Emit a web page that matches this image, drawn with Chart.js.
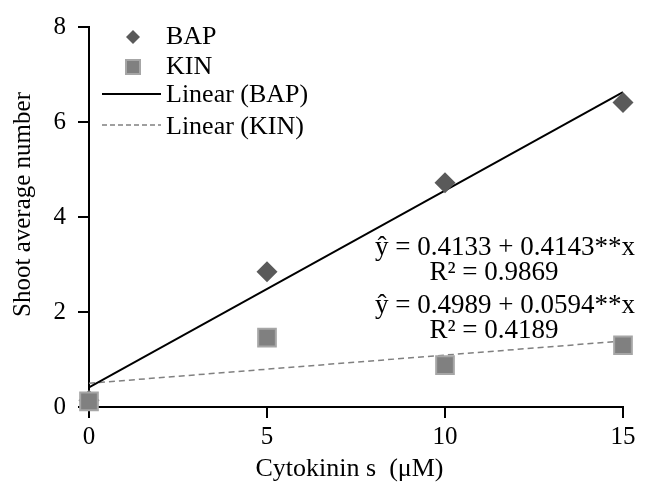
<!DOCTYPE html>
<html lang="en">
<head>
  <meta charset="UTF-8">
  <title>Shoot average number vs cytokinins</title>
  <script src="https://cdn.jsdelivr.net/npm/chart.js"></script>
  <style>
    html, body { margin: 0; padding: 0; background: #fff; }
    .chart-box { width: 646px; height: 487px; }
  </style>
</head>
<body>
  <div class="chart-box">
    <canvas id="shootChart" width="646" height="487"></canvas>
  </div>

  <script>
    // data
    var concentrations = [0, 5, 10, 15];
    var bapValues = [0.14, 2.85, 4.72, 6.41];
    var kinValues = [0.12, 1.46, 0.88, 1.30];
    // fitted trend lines: [intercept, slope]
    var bapFit = [0.4133, 0.4143];
    var kinFit = [0.4989, 0.0594];
    var fitRange = [0, 15];
    var equationLines = [
      ['\u0177 = 0.4133 + 0.4143**x', 'R\u00b2 = 0.9869'],
      ['\u0177 = 0.4989 + 0.0594**x', 'R\u00b2 = 0.4189']
    ];
    var yTicks = [0, 2, 4, 6, 8];
    var xTicks = [0, 5, 10, 15];

    var serif = "'Liberation Serif', 'Times New Roman', serif";

    function toPoints(xs, ys) {
      return xs.map(function(x, i) { return { x: x, y: ys[i] }; });
    }
    function fitLine(fit) {
      return fitRange.map(function(x) { return { x: x, y: fit[0] + fit[1] * x }; });
    }

    // legend + equation text drawn by hand, the way the original sits inside the plot
    var extrasPlugin = {
      id: 'extras',
      afterDatasetsDraw: function(chart) {
        var ctx = chart.ctx;
        ctx.save();
        ctx.font = '26px ' + serif;
        ctx.textBaseline = 'middle';
        ctx.textAlign = 'left';

        // diamond
        ctx.fillStyle = '#5a5a5a';
        ctx.beginPath();
        ctx.moveTo(133, 30); ctx.lineTo(140, 37); ctx.lineTo(133, 44); ctx.lineTo(126, 37);
        ctx.closePath(); ctx.fill();
        // square
        ctx.fillStyle = '#808080';
        ctx.strokeStyle = '#a6a6a6';
        ctx.lineWidth = 2;
        ctx.fillRect(126, 60, 14, 14);
        ctx.strokeRect(126, 60, 14, 14);
        // solid line
        ctx.strokeStyle = '#000';
        ctx.lineWidth = 2;
        ctx.beginPath(); ctx.moveTo(102, 94); ctx.lineTo(161, 94); ctx.stroke();
        // dashed line
        ctx.strokeStyle = '#808080';
        ctx.lineWidth = 1.5;
        ctx.setLineDash([5, 3]);
        ctx.beginPath(); ctx.moveTo(102, 125); ctx.lineTo(161, 125); ctx.stroke();
        ctx.setLineDash([]);

        ctx.fillStyle = '#000';
        ctx.fillText('BAP', 166, 37);
        ctx.fillText('KIN', 166, 67);
        ctx.fillText('Linear (BAP)', 166, 95);
        ctx.fillText('Linear (KIN)', 166, 127);

        // equations
        ctx.font = '27px ' + serif;
        var rows = [[248, 273], [306, 331]];
        equationLines.forEach(function(eq, i) {
          ctx.textAlign = 'right';
          ctx.fillText(eq[0], 635, rows[i][0]);
          ctx.textAlign = 'center';
          ctx.fillText(eq[1], 494, rows[i][1]);
        });
        ctx.restore();
      }
    };

    var ctx = document.getElementById('shootChart').getContext('2d');
    var shootChart = new Chart(ctx, {
      type: 'scatter',
      data: {
        datasets: [
          {
            label: 'KIN',
            data: toPoints(concentrations, kinValues),
            pointStyle: 'rect',
            pointRadius: 12.5,
            backgroundColor: '#808080',
            borderColor: '#a6a6a6',
            borderWidth: 2,
            clip: false,
            order: 0
          },
          {
            label: 'BAP',
            data: toPoints(concentrations, bapValues),
            pointStyle: 'rectRot',
            pointRadius: 10.5,
            backgroundColor: '#5a5a5a',
            borderColor: '#5a5a5a',
            borderWidth: 0,
            clip: false,
            order: 1
          },
          {
            label: 'Linear (BAP)',
            data: fitLine(bapFit),
            showLine: true,
            pointRadius: 0,
            borderColor: '#000',
            borderWidth: 2,
            order: 2
          },
          {
            label: 'Linear (KIN)',
            data: fitLine(kinFit),
            showLine: true,
            pointRadius: 0,
            borderColor: '#808080',
            borderWidth: 1.5,
            borderDash: [6, 4],
            order: 3
          }
        ]
      },
      options: {
        responsive: false,
        animation: false,
        layout: { padding: { left: 0, right: 23, top: 20, bottom: 0 } },
        plugins: {
          legend: { display: false },
          tooltip: { enabled: false }
        },
        scales: {
          x: {
            type: 'linear',
            min: 0,
            max: 15,
            afterBuildTicks: function(scale) {
              scale.ticks = xTicks.map(function(v) { return { value: v }; });
            },
            afterFit: function(scale) { scale.height = 80; },
            grid: {
              display: true,
              drawOnChartArea: false,
              drawTicks: true,
              tickLength: 11,
              color: '#000',
              lineWidth: 2
            },
            border: { display: true, color: '#000', width: 2 },
            ticks: {
              color: '#000',
              padding: 4,
              font: { family: serif, size: 25 }
            },
            title: {
              display: true,
              text: 'Cytokinin s  (\u03bcM)\u00a0\u00a0',
              color: '#000',
              font: { family: serif, size: 26 },
              padding: { top: 0, bottom: 2 }
            }
          },
          y: {
            type: 'linear',
            min: 0,
            max: 8,
            afterBuildTicks: function(scale) {
              scale.ticks = yTicks.map(function(v) { return { value: v }; });
            },
            afterFit: function(scale) { scale.width = 89; },
            grid: {
              display: true,
              drawOnChartArea: false,
              drawTicks: true,
              tickLength: 11,
              color: '#000',
              lineWidth: 2
            },
            border: { display: true, color: '#000', width: 2 },
            ticks: {
              color: '#000',
              padding: 12,
              font: { family: serif, size: 25 }
            },
            title: {
              display: true,
              text: '\u00a0\u00a0\u00a0\u00a0Shoot average number',
              color: '#000',
              font: { family: serif, size: 25 },
              padding: { top: 8, bottom: 0 }
            }
          }
        }
      },
      plugins: [extrasPlugin]
    });
  </script>
</body>
</html>
